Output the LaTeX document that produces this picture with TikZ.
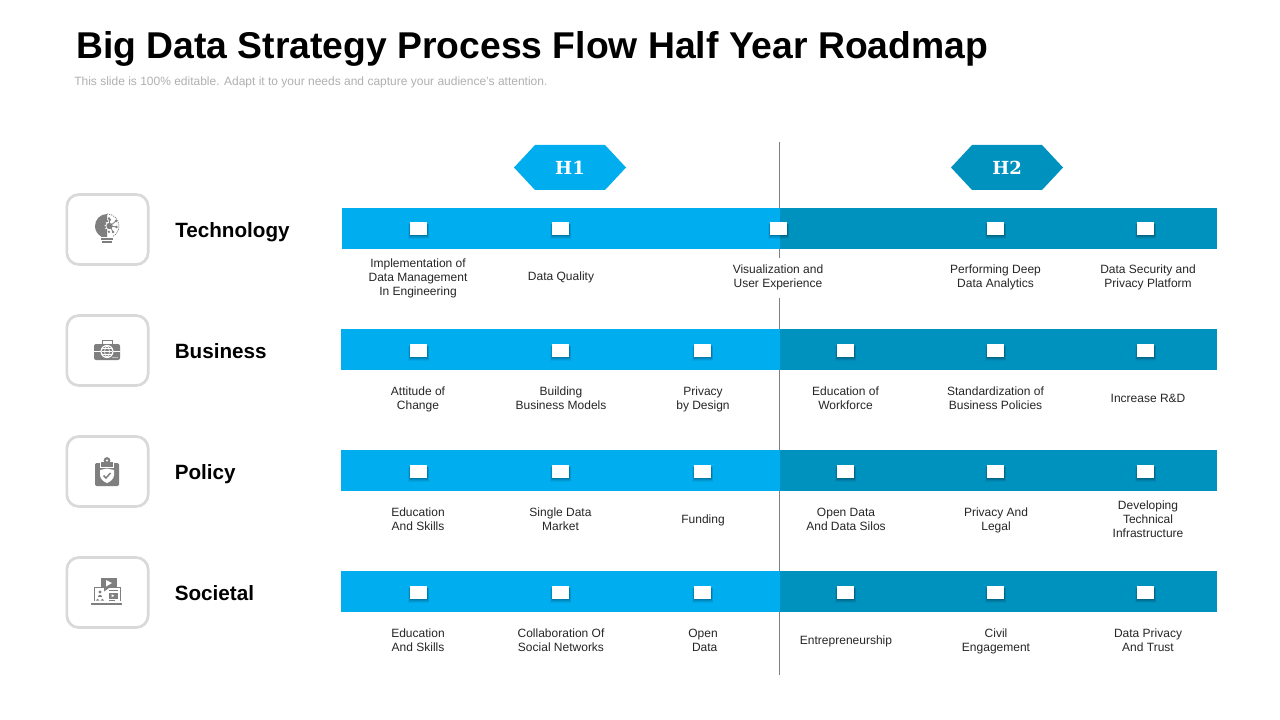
\documentclass[tikz,border=0pt]{standalone}
\usepackage{fontspec}
\setmainfont{Liberation Sans}
\newfontfamily\serifh{DejaVu Serif}
\definecolor{barL}{HTML}{00ADEF}
\definecolor{barD}{HTML}{0092BF}
\definecolor{iconG}{HTML}{7F7F7F}
\definecolor{frameG}{HTML}{D9D9D9}
\definecolor{subG}{HTML}{B0B0B0}
\tikzset{
 x=0.75pt,y=-0.75pt,
 mark box/.style={fill=white,inner sep=0,minimum width=13.2pt,minimum height=9.75pt},
 lbl/.style={font=\fontsize{9}{10.5}\selectfont,align=center,text=black!85,inner sep=0,yshift=-1.4pt,execute at begin node=\strut,execute at end node=\strut},
 cat/.style={font=\bfseries\fontsize{15.5}{18}\selectfont,anchor=base west,inner sep=0,text=black},
 frame/.style={draw=frameG,line width=2pt,rounded corners=9pt,fill=white,minimum width=61pt,minimum height=52.5pt,inner sep=0},
 hexlabel/.style={font=\serifh\bfseries\fontsize{13.5}{16}\selectfont,text=white,inner sep=0},
 white line/.style={draw=white,line width=.5pt},
}
\newcommand{\mk}[3]{% name, x, y
 \foreach \sp/\so in {4/.05,3/.07,2/.09,1/.11}{
  \fill[black,opacity=\so] (#2-8.5-\sp*.5,#3-4) rectangle (#2+8.5+\sp*.5,#3+6.5+\sp);
 }
 \node[mark box] (#1) at (#2,#3) {};
}
\begin{document}
\begin{tikzpicture}
\useasboundingbox (0,0) rectangle (1280,720);
\fill[white] (0,0) rectangle (1280,720);
\node[font=\bfseries\fontsize{27.97}{32}\selectfont,anchor=base west,inner sep=0] (title) at (76,58.5) {Big Data Strategy Process Flow Half Year Roadmap};
\node[font=\fontsize{9}{11}\selectfont,anchor=base west,inner sep=0,text=subG] (sub) at (74,86) {This slide is 100\% editable. Adapt it to your needs and capture your audience's attention.};
% centre line
\coordinate (ltop) at (779.5,142);
\coordinate (lbot) at (779.5,675);
\draw[iconG,line width=.75pt] (ltop) -- (lbot);
% bars
\path[fill=barL] (342,208) rectangle (780,249);
\path[fill=barD] (780,208) rectangle (1217,249);
\foreach \y in {329,450,571}{
 \path[fill=barL] (341,\y) rectangle (780,\y+41);
 \path[fill=barD] (780,\y) rectangle (1217,\y+41);
}
% hexagons
\fill[barL] (514,167.5) -- (535,145) -- (605,145) -- (626,167.5) -- (605,190) -- (535,190) -- cycle;
\fill[barD] (951,167.5) -- (972,145) -- (1042,145) -- (1063,167.5) -- (1042,190) -- (972,190) -- cycle;
\node[hexlabel] (h1) at (570,167.5) {H1};
\node[hexlabel] (h2) at (1007,167.5) {H2};
% marks
\mk{t1}{418.5}{228.5}\mk{t2}{560.5}{228.5}\mk{t3}{778.5}{228.5}\mk{t4}{995.5}{228.5}\mk{t5}{1145.5}{228.5}
\foreach \r/\y in {b/350,p/471,s/592}{
 \mk{\r1}{418.5}{\y}\mk{\r2}{560.5}{\y}\mk{\r3}{702.5}{\y}\mk{\r4}{845.5}{\y}\mk{\r5}{995.5}{\y}\mk{\r6}{1145.5}{\y}
}
% frames
\node[frame] (f1) at (107.5,229.5) {};
\node[frame] (f2) at (107.5,350.5) {};
\node[frame] (f3) at (107.5,471.5) {};
\node[frame] (f4) at (107.5,592.5) {};
% categories
\node[cat] (c1) at (175,237.5) {Technology};
\node[cat] (c2) at (174.5,358.5) {Business};
\node[cat] (c3) at (174.5,479.5) {Policy};
\node[cat] (c4) at (174.5,600.5) {Societal};
% labels row 1
\node[lbl] (l11) at (418,277) {Implementation of\\Data Management\\In Engineering};
\node[lbl] (l12) at (561,276) {Data Quality};
\node[lbl,fill=white,minimum height=30pt] (l13) at (778,276) {Visualization and\\User Experience};
\node[lbl] (l14) at (995.5,276) {Performing Deep\\Data Analytics};
\node[lbl] (l15) at (1148,276) {Data Security and\\Privacy Platform};
% row 2
\node[lbl] (l21) at (418,398) {Attitude of\\Change};
\node[lbl] (l22) at (561,398) {Building\\Business Models};
\node[lbl] (l23) at (703,398) {Privacy\\by Design};
\node[lbl] (l24) at (845.5,398) {Education of\\Workforce};
\node[lbl] (l25) at (995.5,398) {Standardization of\\Business Policies};
\node[lbl] (l26) at (1148,397.5) {Increase R\&D};
% row 3
\node[lbl] (l31) at (418,519) {Education\\And Skills};
\node[lbl] (l32) at (560.5,519) {Single Data\\Market};
\node[lbl] (l33) at (703,518.5) {Funding};
\node[lbl] (l34) at (846,519.8) {Open Data\\And Data Silos};
\node[lbl] (l35) at (996,519) {Privacy And\\Legal};
\node[lbl] (l36) at (1148,519) {Developing\\Technical\\Infrastructure};
% row 4
\node[lbl] (l41) at (418,640) {Education\\And Skills};
\node[lbl] (l42) at (561,640) {Collaboration Of\\Social Networks};
\node[lbl] (l43) at (703,640.8) {Open\\ \ Data};
\node[lbl] (l44) at (846,639.5) {Entrepreneurship};
\node[lbl] (l45) at (996,640) {Civil\\Engagement};
\node[lbl] (l46) at (1148,640) {Data Privacy\\And Trust};
% ---- icon 1: bulb with gear and network
\fill[iconG] (107,214) arc[start angle=-90,end angle=-240,radius=12] -- (101,237) -- (107,237) -- cycle;
\fill[white] (111,226) circle (6.4);
\foreach \a in {110,140,170,200,230,260}{\fill[iconG] (111,226) ++(\a:6.2) circle (1.3);}
\fill[white] (111,226) circle (5);
\fill[iconG] (109.5,226) circle (3.2);
\fill[iconG] (101,232) -- (106,232) -- (106,237) -- (101,237) -- cycle;
\draw[iconG,line width=.6pt,dash pattern=on .8pt off .8pt] (107,214) arc[start angle=-90,end angle=60,radius=12];
\foreach \p in {(109,218.5),(116,221),(116.5,227),(113,232)}{\fill[iconG] \p circle (1.4);}
\draw[iconG,line width=.6pt] (110,226) -- (109,218.5) (110,226) -- (116,221) (110,226) -- (116.5,227) (110,226) -- (113,232);
\fill[iconG] (101,238) rectangle (113,240);
\fill[iconG] (102,241) rectangle (112,243);
% ---- icon 2: briefcase
\draw[iconG,line width=.6pt] (102,344) -- (102,340.5) -- (112,340.5) -- (112,344);
\fill[iconG,rounded corners=1.5pt] (94,344) rectangle (120,360);
\draw[white line] (94,351) -- (120,351);
\fill[white] (107,351.5) circle (6.6);
\fill[iconG] (107,351.5) circle (5.4);
\draw[white line] (107,351.5) ellipse (2.4 and 5.4);
\draw[white line] (101.6,351.5) -- (112.4,351.5) (102.4,348.5) -- (111.6,348.5) (102.4,354.5) -- (111.6,354.5);
\foreach \x in {113,115,117}{\fill[white] (\x,357.5) circle (.6);}
% ---- icon 3: clipboard
\fill[iconG,rounded corners=1pt] (95,463) rectangle (119,486);
\fill[white] (100,463) rectangle (114,467.5);
\fill[iconG] (101,462) rectangle (113,466.5);
\fill[iconG] (107,460.5) circle (3.4);
\fill[white] (107,460.5) circle (1.1);
\fill[white] (100,470) -- (107,468.5) -- (114,470) -- (114,475) .. controls (114,479) and (110,482) .. (107,483) .. controls (104,482) and (100,479) .. (100,475) -- cycle;
\draw[iconG,line width=1.1pt] (103.5,475.5) -- (106,478) -- (110.5,473);
% ---- icon 4: laptop with video bubble
\draw[iconG,line width=.7pt] (101,587) -- (94,587) -- (94,601) (117,587) -- (120,587) -- (120,601);
\fill[iconG] (91,602.5) rectangle (122,605);
\fill[iconG] (101,578) rectangle (117,588);
\fill[iconG] (104,588) -- (109,588) -- (104,591.5) -- cycle;
\fill[white] (106,580) -- (106,586.5) -- (112,583) -- cycle;
\fill[iconG] (100,592) circle (1.7);
\fill[iconG] (95.8,600.5) arc[start angle=180,end angle=360,radius=1.8] -- cycle;
\fill[iconG] (100.6,600.5) arc[start angle=180,end angle=360,radius=1.8] -- cycle;
\fill[iconG] (98,596.8) arc[start angle=180,end angle=360,radius=2] -- cycle;
\fill[iconG] (108.5,593) rectangle (117.5,598.5);
\fill[white] (111.5,594.2) -- (111.5,597.3) -- (114.3,595.7) -- cycle;
\draw[iconG,line width=.5pt] (108.5,590.5) -- (117.5,590.5) (108.5,600.3) -- (115,600.3);
\end{tikzpicture}
\end{document}
